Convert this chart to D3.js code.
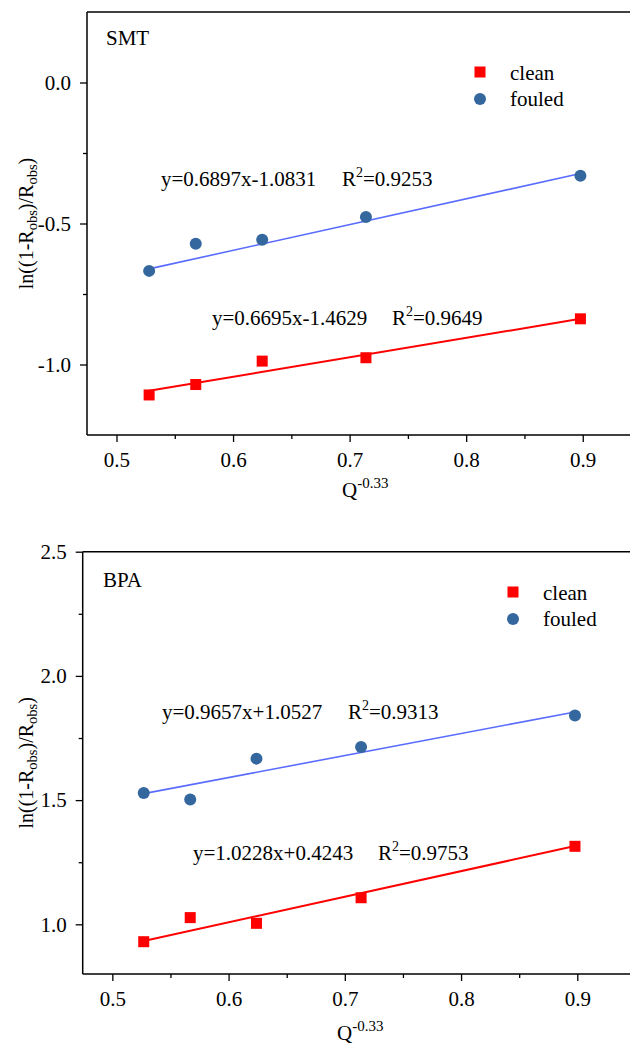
<!DOCTYPE html>
<html>
<head>
<meta charset="utf-8">
<script src="https://cdn.jsdelivr.net/npm/d3@7"></script>
<style>
  body { margin: 0; background: #fff; }
  svg text { font-family: "Times New Roman", "Liberation Serif", "DejaVu Serif", serif; }
</style>
</head>
<body>
<svg id="chart" width="630" height="1045"></svg>
<script>
// values
const xTicks = [0.5, 0.6, 0.7, 0.8, 0.9];
const xMinor = [0.55, 0.65, 0.75, 0.85];

const smtX = [0.528, 0.568, 0.625, 0.714, 0.898];
const smtClean = [-1.108, -1.071, -0.988, -0.976, -0.838];
const smtFouled = [-0.668, -0.572, -0.558, -0.477, -0.331];
const smtFitX = [0.528, 0.898];
const smtFitClean = [-1.093, -0.838];
const smtFitFouled = [-0.661, -0.323];
const smtYTicks = [0.0, -0.5, -1.0];
const smtYMinor = [-0.25, -0.75];

const bpaX = [0.527, 0.567, 0.624, 0.714, 0.898];
const bpaClean = [0.930, 1.027, 1.004, 1.107, 1.314];
const bpaFouled = [1.529, 1.502, 1.667, 1.714, 1.841];
const bpaFitX = [0.527, 0.898];
const bpaFitClean = [0.933, 1.315];
const bpaFitFouled = [1.526, 1.855];
const bpaYTicks = [2.5, 2.0, 1.5, 1.0];
const bpaYMinor = [2.25, 1.75, 1.25];

const seriesNames = ['clean', 'fouled'];

const smtEq = ['y=0.6897x-1.0831', '0.9253', 'y=0.6695x-1.4629', '0.9649'];
const bpaEq = ['y=0.9657x+1.0527', '0.9313', 'y=1.0228x+0.4243', '0.9753'];

const RED = '#ff0000';
const BLUE_PT = '#34679e';
const BLUE_LN = '#5a6cff';
const FS = 21;
const FONT = '"Times New Roman", "Liberation Serif", "DejaVu Serif", serif';

const svg = d3.select('#chart').attr('font-family', FONT);

let fmt = d => d3.format('.1f')(d).replace('\u2212', '-');

// panel placement (pixels)
const panels = [
  {
    name: 'SMT', x: smtX, clean: smtClean, fouled: smtFouled,
    fitX: smtFitX, fitClean: smtFitClean, fitFouled: smtFitFouled,
    yTicks: smtYTicks, yMinor: smtYMinor, eq: smtEq,
    left: 87, right: 631, top: 12, bottom: 435,
    xDomain: [0.4747, 0.9414], yDomain: [-1.25, 0.25],
    title: [106, 45],
    eqPos: [[161, 186], [342, 186], [212, 325], [392, 325]],
    legend: [480, 72, 510],
    qPos: [342, 497]
  },
  {
    name: 'BPA', x: bpaX, clean: bpaClean, fouled: bpaFouled,
    fitX: bpaFitX, fitClean: bpaFitClean, fitFouled: bpaFitFouled,
    yTicks: bpaYTicks, yMinor: bpaYMinor, eq: bpaEq,
    left: 82.7, right: 631, top: 551.7, bottom: 974,
    xDomain: [0.4745, 0.9462], yDomain: [0.8, 2.5],
    title: [103, 587],
    eqPos: [[162, 719], [348, 719], [193, 860], [378, 860]],
    legend: [513, 592, 543],
    qPos: [337, 1040]
  }
];

for (let p of panels)
{
  let sx = d3.scaleLinear().domain(p.xDomain).range([p.left, p.right]);
  let sy = d3.scaleLinear().domain(p.yDomain).range([p.bottom, p.top]);
  let g = svg.append('g');

  // axes
  let xAxis = g.append('g').attr('transform', `translate(0,${p.bottom})`)
      .call(d3.axisBottom(sx).tickValues(xTicks).tickFormat(fmt)
            .tickSize(7).tickPadding(10));
  g.append('g').attr('transform', `translate(0,${p.bottom})`)
      .call(d3.axisBottom(sx).tickValues(xMinor).tickFormat('').tickSize(4))
      .call(a => a.select('.domain').remove());
  let yAxis = g.append('g').attr('transform', `translate(${p.left},0)`)
      .call(d3.axisLeft(sy).tickValues(p.yTicks).tickFormat(fmt)
            .tickSize(7).tickPadding(9));
  g.append('g').attr('transform', `translate(${p.left},0)`)
      .call(d3.axisLeft(sy).tickValues(p.yMinor).tickFormat('').tickSize(4))
      .call(a => a.select('.domain').remove());

  g.selectAll('g').attr('font-family', FONT).attr('font-size', FS);
  g.selectAll('.tick line').attr('stroke', '#000').attr('stroke-width', 1.3);
  g.selectAll('.domain').attr('stroke', '#000').attr('stroke-width', 1.5);
  xAxis.select('.domain').attr('d', `M${p.left},0H${p.right}`);
  yAxis.select('.domain').attr('d', `M0,${p.top}V${p.bottom}`);
  g.selectAll('.tick text').attr('fill', '#000');

  // top frame line
  g.append('line')
      .attr('x1', p.left).attr('x2', p.right)
      .attr('y1', p.top).attr('y2', p.top)
      .attr('stroke', '#000').attr('stroke-width', 1.5);

  // fit lines
  let line = d3.line().x(d => sx(d[0])).y(d => sy(d[1]));
  g.append('path').datum(p.fitX.map((v, i) => [v, p.fitFouled[i]]))
      .attr('d', line).attr('fill', 'none')
      .attr('stroke', BLUE_LN).attr('stroke-width', 1.6);
  g.append('path').datum(p.fitX.map((v, i) => [v, p.fitClean[i]]))
      .attr('d', line).attr('fill', 'none')
      .attr('stroke', RED).attr('stroke-width', 2);

  // points
  g.selectAll('rect.clean').data(p.x.map((v, i) => [v, p.clean[i]]))
      .join('rect').attr('class', 'clean')
      .attr('x', d => sx(d[0]) - 5.5).attr('y', d => sy(d[1]) - 5.5)
      .attr('width', 11).attr('height', 11).attr('fill', RED);
  g.selectAll('circle.fouled').data(p.x.map((v, i) => [v, p.fouled[i]]))
      .join('circle').attr('class', 'fouled')
      .attr('cx', d => sx(d[0])).attr('cy', d => sy(d[1]))
      .attr('r', 6).attr('fill', BLUE_PT);

  // panel title
  g.append('text').attr('x', p.title[0]).attr('y', p.title[1])
      .attr('font-size', FS).text(p.name);

  // equations
  for (let k = 0; k < 4; k += 2)
  {
    g.append('text').attr('x', p.eqPos[k][0]).attr('y', p.eqPos[k][1])
        .attr('font-size', FS).text(p.eq[k]);
    let r = g.append('text').attr('x', p.eqPos[k + 1][0])
        .attr('y', p.eqPos[k + 1][1]).attr('font-size', FS);
    r.append('tspan').text('R');
    r.append('tspan').attr('dy', -9).attr('font-size', 14).text('2');
    r.append('tspan').attr('dy', 9).text('=' + p.eq[k + 1]);
  }

  // legend
  let [lx, ly, tx] = p.legend;
  g.append('rect').attr('x', lx - 5.5).attr('y', ly - 5.5)
      .attr('width', 11).attr('height', 11).attr('fill', RED);
  g.append('circle').attr('cx', lx).attr('cy', ly + 27).attr('r', 6)
      .attr('fill', BLUE_PT);
  g.selectAll('text.leg').data(seriesNames).join('text').attr('class', 'leg')
      .attr('x', tx).attr('y', (d, i) => ly + 8 + i * 26)
      .attr('font-size', FS).text(d => d);

  // x title
  let q = g.append('text').attr('x', p.qPos[0]).attr('y', p.qPos[1])
      .attr('font-size', FS);
  q.append('tspan').text('Q');
  q.append('tspan').attr('dy', -9).attr('font-size', 15).text('-0.33');

  // y title
  let cy = (p.top + p.bottom) / 2;
  let t = g.append('text')
      .attr('transform', `translate(33,${cy}) rotate(-90)`)
      .attr('text-anchor', 'middle').attr('font-size', 20);
  t.append('tspan').text('ln((1-R');
  t.append('tspan').attr('dy', 4).attr('font-size', 14.5).text('obs');
  t.append('tspan').attr('dy', -4).text(')/R');
  t.append('tspan').attr('dy', 4).attr('font-size', 14.5).text('obs');
  t.append('tspan').attr('dy', -4).text(')');
}
</script>
</body>
</html>
